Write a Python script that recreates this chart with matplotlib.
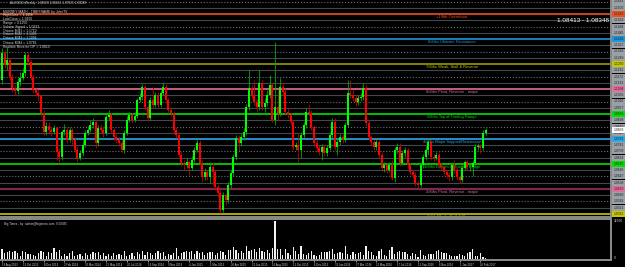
import matplotlib

matplotlib.use("Agg")
import matplotlib.pyplot as plt
import matplotlib.transforms as mtransforms
import numpy as np

plt.rcParams["font.family"] = ["Liberation Sans", "DejaVu Sans"]

# weekly candles, first bar = week of 18 Aug 2013
first_open = 1.1150
closes = [
    1.1319, 1.1244, 1.1275, 1.1169, 1.1100, 1.1081, 1.1138, 1.1163, 1.1194, 1.1306,
    1.1263, 1.1169, 1.1088, 1.1069, 1.1050, 1.0944, 1.0825, 1.0863, 1.0838, 1.0825,
    1.0850, 1.0700, 1.0669, 1.0825, 1.0838, 1.0775, 1.0838, 1.0775, 1.0713, 1.0663,
    1.0694, 1.0744, 1.0819, 1.0838, 1.0869, 1.0888, 1.0756, 1.0850, 1.0838, 1.0819,
    1.0919, 1.0931, 1.0838, 1.0794, 1.0775, 1.0756, 1.0713, 1.0819, 1.0900, 1.0931,
    1.0900, 1.0925, 1.1025, 1.1044, 1.1106, 1.0981, 1.0913, 1.1025, 1.0994, 1.1056,
    1.0994, 1.1069, 1.1106, 1.1025, 1.0963, 1.0944, 1.0838, 1.0806, 1.0681, 1.0631,
    1.0619, 1.0638, 1.0600, 1.0650, 1.0713, 1.0756, 1.0631, 1.0544, 1.0575, 1.0544,
    1.0606, 1.0575, 1.0481, 1.0444, 1.0338, 1.0431, 1.0400, 1.0494, 1.0569, 1.0669,
    1.0788, 1.0756, 1.0794, 1.0825, 1.0981, 1.1100, 1.1056, 1.1013, 1.0981, 1.1131,
    1.0981, 1.1006, 1.1056, 1.1119, 1.0900, 1.0981, 1.0944, 1.1106, 1.1075, 1.0950,
    1.0931, 1.0888, 1.0731, 1.0744, 1.0713, 1.0806, 1.0869, 1.0950, 1.0944, 1.0856,
    1.0756, 1.0725, 1.0700, 1.0731, 1.0694, 1.0725, 1.0806, 1.0888, 1.0731, 1.0763,
    1.0794, 1.0775, 1.0869, 1.1069, 1.1056, 1.1038, 1.1013, 1.1038, 1.1044, 1.1100,
    1.0881, 1.0794, 1.0763, 1.0731, 1.0763, 1.0681, 1.0600, 1.0619, 1.0588, 1.0619,
    1.0538, 1.0713, 1.0731, 1.0631, 1.0694, 1.0713, 1.0619, 1.0575, 1.0556, 1.0506,
    1.0494, 1.0619, 1.0669, 1.0713, 1.0763, 1.0669, 1.0663, 1.0681, 1.0619, 1.0606,
    1.0575, 1.0556, 1.0544, 1.0619, 1.0588, 1.0544, 1.0525, 1.0600, 1.0638, 1.0606,
    1.0606, 1.0631, 1.0731, 1.0738, 1.0725, 1.0819, 1.0838,
]
highs = [
    1.1350, 1.1338, 1.1356, 1.1288, 1.1188, 1.1119, 1.1163, 1.1200, 1.1225, 1.1325,
    1.1325, 1.1275, 1.1181, 1.1100, 1.1088, 1.1063, 1.0963, 1.0888, 1.0888, 1.0856,
    1.0869, 1.0863, 1.0725, 1.0838, 1.0875, 1.0856, 1.0856, 1.0850, 1.0794, 1.0738,
    1.0713, 1.0775, 1.0838, 1.0863, 1.0900, 1.0913, 1.0900, 1.0869, 1.0875, 1.0863,
    1.0944, 1.0963, 1.0950, 1.0850, 1.0813, 1.0794, 1.0775, 1.0838, 1.0925, 1.0950,
    1.0944, 1.0950, 1.1038, 1.1069, 1.1125, 1.1119, 1.1000, 1.1044, 1.1106, 1.1075,
    1.1075, 1.1088, 1.1138, 1.1125, 1.1038, 1.0981, 1.0956, 1.0856, 1.0825, 1.0700,
    1.0650, 1.0663, 1.0650, 1.0675, 1.0731, 1.0775, 1.0775, 1.0650, 1.0600, 1.0588,
    1.0638, 1.0638, 1.0588, 1.0500, 1.0463, 1.0450, 1.0444, 1.0513, 1.0588, 1.0688,
    1.0806, 1.0806, 1.0813, 1.0850, 1.1000, 1.1213, 1.1119, 1.1150, 1.1031, 1.1213,
    1.1150, 1.1038, 1.1088, 1.1181, 1.1138, 1.1388, 1.1088, 1.1163, 1.1138, 1.1100,
    1.0975, 1.0950, 1.0900, 1.0763, 1.0819, 1.0825, 1.0888, 1.0975, 1.1000, 1.0963,
    1.0869, 1.0775, 1.0744, 1.0750, 1.0744, 1.0744, 1.0825, 1.0913, 1.0913, 1.0788,
    1.0813, 1.0813, 1.0888, 1.1150, 1.1150, 1.1088, 1.1056, 1.1056, 1.1069, 1.1131,
    1.1119, 1.0900, 1.0806, 1.0775, 1.0788, 1.0775, 1.0700, 1.0638, 1.0631, 1.0638,
    1.0650, 1.0731, 1.0756, 1.0756, 1.0713, 1.0731, 1.0725, 1.0631, 1.0588, 1.0575,
    1.0525, 1.0638, 1.0688, 1.0738, 1.0788, 1.0775, 1.0688, 1.0700, 1.0700, 1.0638,
    1.0619, 1.0588, 1.0575, 1.0638, 1.0650, 1.0606, 1.0556, 1.0619, 1.0650, 1.0650,
    1.0631, 1.0650, 1.0750, 1.0756, 1.0750, 1.0838, 1.0850,
]
lows = [
    1.1125, 1.1225, 1.1213, 1.1150, 1.1075, 1.1056, 1.1063, 1.1113, 1.1150, 1.1175,
    1.1238, 1.1150, 1.1069, 1.1050, 1.1025, 1.0925, 1.0806, 1.0806, 1.0819, 1.0800,
    1.0813, 1.0650, 1.0631, 1.0650, 1.0806, 1.0756, 1.0763, 1.0744, 1.0700, 1.0638,
    1.0650, 1.0675, 1.0731, 1.0806, 1.0825, 1.0850, 1.0725, 1.0738, 1.0819, 1.0794,
    1.0806, 1.0900, 1.0819, 1.0775, 1.0756, 1.0738, 1.0700, 1.0694, 1.0806, 1.0888,
    1.0881, 1.0888, 1.0913, 1.1013, 1.1025, 1.0963, 1.0894, 1.0900, 1.0975, 1.0981,
    1.0975, 1.0981, 1.1056, 1.1006, 1.0944, 1.0925, 1.0819, 1.0788, 1.0669, 1.0613,
    1.0588, 1.0600, 1.0556, 1.0588, 1.0638, 1.0700, 1.0619, 1.0513, 1.0525, 1.0525,
    1.0506, 1.0494, 1.0463, 1.0419, 1.0319, 1.0325, 1.0369, 1.0381, 1.0475, 1.0550,
    1.0650, 1.0713, 1.0738, 1.0775, 1.0806, 1.0963, 1.1038, 1.0994, 1.0950, 1.0963,
    1.0963, 1.0950, 1.0988, 1.1038, 1.0888, 1.0869, 1.0900, 1.0925, 1.1056, 1.0931,
    1.0913, 1.0869, 1.0713, 1.0713, 1.0631, 1.0663, 1.0788, 1.0850, 1.0925, 1.0838,
    1.0738, 1.0700, 1.0681, 1.0650, 1.0675, 1.0675, 1.0713, 1.0788, 1.0713, 1.0681,
    1.0744, 1.0756, 1.0763, 1.0856, 1.1038, 1.1019, 1.0988, 1.0994, 1.1019, 1.1025,
    1.0863, 1.0775, 1.0744, 1.0713, 1.0713, 1.0663, 1.0581, 1.0575, 1.0569, 1.0575,
    1.0525, 1.0513, 1.0694, 1.0613, 1.0619, 1.0669, 1.0600, 1.0556, 1.0538, 1.0488,
    1.0475, 1.0481, 1.0600, 1.0650, 1.0681, 1.0650, 1.0638, 1.0650, 1.0600, 1.0588,
    1.0556, 1.0538, 1.0519, 1.0525, 1.0569, 1.0525, 1.0506, 1.0513, 1.0588, 1.0588,
    1.0581, 1.0550, 1.0613, 1.0713, 1.0694, 1.0713, 1.0806,
]
volumes = [
    3000, 1800, 2100, 2300, 2000, 2300, 1800, 1000, 2300, 2000,
    1600, 1500, 1300, 1000, 1800, 2300, 2100, 1000, 2000, 1800,
    3300, 2100, 2800, 800, 1600, 1000, 1800, 2300, 800, 1300,
    1600, 1000, 1800, 1300, 1600, 2000, 1800, 2100, 1300, 1800,
    1000, 1500, 1000, 1800, 1100, 1500, 1300, 2300, 800, 1300,
    1800, 1000, 2000, 1600, 2300, 1300, 2000, 1800, 1300, 1800,
    2300, 1800, 2000, 1000, 1600, 1300, 1800, 3300, 800, 1800,
    2000, 2300, 2000, 2300, 1600, 2300, 1800, 2000, 1300, 1800,
    2000, 2000, 1300, 1800, 2300, 2000, 1300, 2600, 2800, 3600,
    2600, 1800, 2300, 1800, 4000, 2300, 2600, 3000, 2000, 3300,
    2300, 2000, 2800, 1800, 3300, 11500, 3000, 3000, 1300, 3000,
    1800, 1300, 3600, 2300, 1600, 3800, 1500, 1300, 1800, 2500,
    1300, 800, 1300, 2100, 2000, 2000, 2300, 3000, 1500, 1800,
    2000, 1800, 4000, 1600, 1300, 2000, 1500, 1800, 2000, 1300,
    4000, 2300, 2000, 1300, 800, 2300, 3000, 1300, 800, 2600,
    3600, 1600, 2000, 2300, 2000, 2000, 1500, 1000, 1800, 1500,
    600, 2800, 1300, 1000, 1600, 1600, 1600, 2300, 2800, 2000,
    1800, 1800, 1300, 1000, 800, 800, 1500, 1300, 800, 1800,
    2000, 3000, 800, 1000, 1800, 600, 300,
]
date_labels = [
    "18 Aug 2013", "13 Oct 2013", "8 Dec 2013", "2 Feb 2014", "30 Mar 2014",
    "25 May 2014", "20 Jul 2014", "14 Sep 2014", "9 Nov 2014", "4 Jan 2015",
    "1 Mar 2015", "26 Apr 2015", "21 Jun 2015", "16 Aug 2015", "11 Oct 2015",
    "6 Dec 2015", "31 Jan 2016", "27 Mar 2016", "22 May 2016", "17 Jul 2016",
    "11 Sep 2016", "6 Nov 2016", "1 Jan 2017", "26 Feb 2017",
]

# Murrey math octave: +1/8 .. 1/8
murrey_levels = [1.15625, 1.140625, 1.125, 1.109375, 1.09375,
                 1.078125, 1.0625, 1.046875, 1.03125]
murrey_names = [
    "+1/8th Overshoot", "8/8ths Ultimate Resistance",
    "7/8ths Weak, Stall & Reverse", "6/8ths Pivot, Reverse - major",
    "5/8ths Top of Trading Range", "4/8ths Major Support/Resistance",
    "3/8ths Bottom of Trading Range", "2/8ths Pivot, Reverse - major",
    "1/8th Weak, Stall & Reverse",
]
murrey_colors = ["#f0501e", "#1f96d8", "#9a9a00", "#e0709a", "#00e000",
                 "#2aa8e8", "#00e000", "#7a2a4c", "#c8c800"]
label_colors = ["#f0501e", "#1f96d8", "#c8c800", "#e0709a", "#00e000",
                "#2aa8e8", "#00e000", "#e0709a", "#c8c800"]

info_lines = [
    "MURREY MATH - TIMEFRAME by JohnTV",
    "HighClose = 1.1406",
    "LowClose = 1.0156",
    "Range = 0.1250",
    "Volume Signal = 1.0823",
    "Octave MM1 = 1.1719",
    "Octave MM2 = 1.1406",
    "Octave MM3 = 1.1094",
    "Octave MM4 = 1.0781",
    "Realistic Reverse OP = 1.0810",
]
info_y = [11.7, 15.3, 19.0, 23.0, 27.3, 30.8, 34.4, 38.2, 42.6, 46.5]

W, H = 625, 267
BG = "black"
GRID = "#404850"


def px_rect(x0, y0, x1, y1):
    return [x0 / W, 1 - y1 / H, (x1 - x0) / W, (y1 - y0) / H]


fig = plt.figure(figsize=(W / 100, H / 100), dpi=100, facecolor=BG)
ax = fig.add_axes(px_rect(0, 0, 611, 217), facecolor=BG)
axv = fig.add_axes(px_rect(0, 219, 611, 260), facecolor=BG, sharex=ax)

o = np.array([first_open] + closes[:-1])
c = np.array(closes)
h = np.maximum(np.array(highs), np.maximum(o, c))
l = np.minimum(np.array(lows), np.minimum(o, c))
x = np.arange(len(c))
up = c >= o

step = (murrey_levels[0] - murrey_levels[1]) / 4
y_lo, y_hi = 1.029375, 1.165

# 1/32 sub lines (solid / dotted / solid between the eighths)
sub_levels = []
for lev in murrey_levels:
    for k, ls in ((1, "-"), (2, ":"), (3, "-")):
        v = lev + k * step
        if y_lo < v < y_hi:
            sub_levels.append(v)
            ax.axhline(v, color=GRID if ls == "-" else "#6a6e72", lw=0.8, ls=ls, zorder=1)

for lev, col in zip(murrey_levels, murrey_colors):
    ax.axhline(lev, color=col, lw=1.6 if col == "#7a2a4c" else 1.2, zorder=1.5)

for lev, name, col in zip(murrey_levels, murrey_names, label_colors):
    ax.annotate(name, (173, lev), xytext=(0, -0.6), textcoords="offset points",
                ha="center", va="top", fontsize=2.9, color=col, zorder=2)

# candles
ax.vlines(x[up], l[up], h[up], color="#00a800", lw=0.6, zorder=3)
ax.vlines(x[~up], l[~up], h[~up], color="#c00000", lw=0.6, zorder=3)
body_lo = np.minimum(o, c)
body_h = np.maximum(np.abs(c - o), 0.0003)
ax.bar(x[up], body_h[up], bottom=body_lo[up], width=0.72, color="#00ff00", lw=0, zorder=4)
ax.bar(x[~up], body_h[~up], bottom=body_lo[~up], width=0.72, color="#ff0000", lw=0, zorder=4)

ax.set_xlim(-2 / 2.6, 609 / 2.6)
ax.set_ylim(y_lo, y_hi)
ax.set_yticks([])
ax.tick_params(axis="x", bottom=False, labelbottom=False)
for side in ("top", "left"):
    ax.spines[side].set_visible(False)
for side in ("bottom", "right"):
    ax.spines[side].set_color("#8c8c8c")
    ax.spines[side].set_linewidth(1.4)

# right price scale
trans = mtransforms.blended_transform_factory(ax.transAxes, ax.transData)
for v in sub_levels:
    ax.text(1.004, v, f"{v:.4f}", transform=trans, fontsize=2.4, color="#202020",
            va="center", ha="left", clip_on=False,
            bbox=dict(boxstyle="square,pad=0.3", fc="#9aa0a6", ec="none"))
for lev, col in zip(murrey_levels, label_colors):
    ax.text(1.004, lev, f"{lev:.4f}", transform=trans, fontsize=2.4, color="#202020",
            va="center", ha="left", clip_on=False,
            bbox=dict(boxstyle="square,pad=0.3", fc=col, ec="none"))
ax.text(1.004, closes[-1], f"{closes[-1]:.4f}", transform=trans, fontsize=2.4,
        color="#202020", va="center", ha="left", clip_on=False,
        bbox=dict(boxstyle="square,pad=0.3", fc="white", ec="none"))

ax.text(609 / 611, 1 - 20 / 217, "1.08413 - 1.08348", transform=ax.transAxes,
        fontsize=4.6, color="white", ha="right", va="center", zorder=6)

# header / info block
fig.text(10 / W, 1 - 3.4 / H, "AUDSGD,Weekly  1.08020 1.08413 1.07925 1.08348",
         fontsize=2.3, color="#d8d8d8", va="center")
for txt, yy in zip(info_lines, info_y):
    fig.text(3 / W, 1 - yy / H, txt, fontsize=2.4, color="#d8d8d8", va="center")

# volume panel
axv.bar(x, volumes, width=0.45, color="#f2f2f2", lw=0)
axv.set_ylim(-300, 12000)
axv.set_yticks([])
axv.spines["left"].set_visible(False)
for side in ("top", "bottom", "right"):
    axv.spines[side].set_color("#8c8c8c")
    axv.spines[side].set_linewidth(1.4)
axv.set_xticks(np.arange(len(date_labels)) * 8)
axv.set_xticklabels(date_labels)
axv.tick_params(axis="x", labelsize=2.0, colors="#d0d0d0", length=1.5, width=0.5, pad=0.8)
for lab in axv.get_xticklabels():
    lab.set_ha("left")
axv.text(0.006, 0.93, "Big Times - by  admin@bigtimes.com  0.09435", transform=axv.transAxes,
         fontsize=2.2, color="#d0d0d0", va="top")
axv.text(1.004, 0.94, "11500", transform=axv.transAxes, fontsize=2.4, color="#d0d0d0",
         va="center", ha="left")
axv.text(1.004, 0.06, "0", transform=axv.transAxes, fontsize=2.4, color="#d0d0d0",
         va="center", ha="left")

fig.savefig("out.png", dpi=100, facecolor=BG)
